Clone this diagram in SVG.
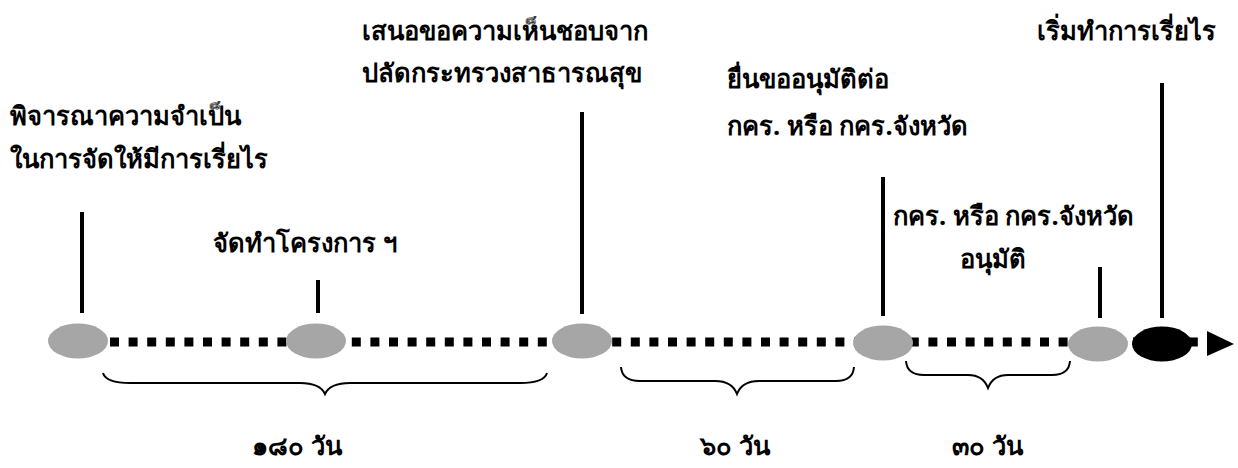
<svg xmlns="http://www.w3.org/2000/svg" width="1238" height="468" viewBox="0 0 1238 468">
<style>
.t{font-family:"Noto Sans","DejaVu Sans",sans-serif;font-weight:bold;font-size:25.5px;fill:#000}
.tick{stroke:#000;stroke-width:4}
.node{fill:#a6a6a6}
.brace{fill:none;stroke:#000;stroke-width:2}
</style>
<rect width="1238" height="468" fill="#fff"/>
<g id="connectors">
<line x1="110" y1="342" x2="1207" y2="342" stroke="#000" stroke-width="9" stroke-dasharray="9 9.6"/>
<polygon points="1207,331 1234,344 1207,356" fill="#000"/>
<path class="brace" d="M103,373 Q106,383 130,383 L300,383 Q320,383 325,394 Q330,383 350,383 L520,383 Q544,383 547,373"/>
<path class="brace" d="M621,367 Q622,381 640,381 L715,381 Q732,381 737,394 Q742,381 759,381 L836,381 Q853,381 854,367"/>
<path class="brace" d="M906,361 Q907,375 924,375 L968,375 Q983,375 988,388 Q993,375 1008,375 L1052,375 Q1069,375 1070,361"/>
</g>
<g id="n1"><line class="tick" x1="82" y1="212" x2="82" y2="313"/><ellipse class="node" cx="78" cy="341" rx="30" ry="17.5"/>
<text class="t" x="10" y="125">พิจารณาความจำเป็น</text><text class="t" x="10" y="168">ในการจัดให้มีการเรี่ยไร</text></g>
<g id="n2"><line class="tick" x1="318" y1="280" x2="318" y2="313"/><ellipse class="node" cx="316" cy="341" rx="30" ry="17.5"/>
<text class="t" x="213" y="252">จัดทำโครงการ ฯ</text></g>
<g id="n3"><line class="tick" x1="582" y1="112" x2="582" y2="314"/><ellipse class="node" cx="582" cy="341" rx="30" ry="17.5"/>
<text class="t" x="362" y="40">เสนอขอความเห็นชอบจาก</text><text class="t" x="362" y="82">ปลัดกระทรวงสาธารณสุข</text></g>
<g id="n4"><line class="tick" x1="883" y1="177" x2="883" y2="316"/><ellipse class="node" cx="883" cy="343" rx="30" ry="17.5"/>
<text class="t" x="727" y="88">ยื่นขออนุมัติต่อ</text><text class="t" x="727" y="135">กคร. หรือ กคร.จังหวัด</text></g>
<g id="n5"><line class="tick" x1="1100" y1="267" x2="1100" y2="318"/><ellipse class="node" cx="1098" cy="344" rx="30" ry="17.5"/>
<text class="t" x="893" y="225">กคร. หรือ กคร.จังหวัด</text><text class="t" x="960" y="268">อนุมัติ</text></g>
<g id="n6"><line class="tick" x1="1162" y1="83" x2="1162" y2="318"/><ellipse cx="1162" cy="344" rx="30" ry="17.5" fill="#000"/>
<text class="t" x="1037" y="40">เริ่มทำการเรี่ยไร</text></g>
<g id="labels">
<text class="t" x="252" y="455">๑๘๐ วัน</text>
<text class="t" x="700" y="455">๖๐ วัน</text>
<text class="t" x="952" y="455">๓๐ วัน</text>
</g>
</svg>
